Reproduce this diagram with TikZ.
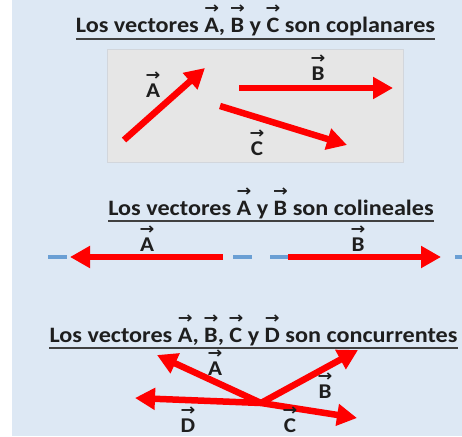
\documentclass[tikz,border=0pt]{standalone}
\usepackage{fontspec}
\usepackage{graphicx}
\setmainfont{Carlito}[FakeStretch=1.1]
\newfontfamily\arrfont{DejaVu Sans}
\usetikzlibrary{arrows.meta}

\definecolor{bgblue}{HTML}{DDE8F4}
\definecolor{panelgray}{HTML}{E6E6E6}
\definecolor{panelline}{HTML}{D2D6DC}
\definecolor{vecred}{HTML}{FF0000}
\definecolor{axisblue}{HTML}{6A9FD4}
\definecolor{inkgray}{HTML}{1E1E1E}

% letter with a small arrow set above it (optional: height of the arrow)
\newcommand\vecar[2][19pt]{\setbox0\hbox{#2}\leavevmode\rlap{\hbox to\wd0{\hss\raisebox{#1}{\scalebox{1.1}[1]{\arrfont\bfseries\fontsize{16}{16}\selectfont →}}\hss}}\box0\relax}
\newcommand\lvec[1]{\vecar[17pt]{#1}}

\tikzset{
  vec/.style={draw=vecred, line width=6.5pt, -{Triangle[length=20pt,width=21pt]}},
  title/.style={anchor=base, inner sep=0pt, text=inkgray, font=\bfseries\fontsize{22}{26}\selectfont},
  lbl/.style={anchor=base, inner sep=0pt, text=inkgray, font=\bfseries\fontsize{21}{25}\selectfont},
  uline/.style={draw=inkgray!85, line width=1.6pt},
}

\begin{document}
\begin{tikzpicture}[x=1pt, y=-1pt]
\useasboundingbox (0,0) rectangle (462,436);
\fill[white] (0,0) rectangle (462,436);
\fill[bgblue] (12,0) rectangle (462,436);

% --- coplanar vectors ---
\node[title] (t1) at (255.5,33) {Los vectores \vecar{A}, \vecar{B} y \vecar{C} son coplanares};
\draw[uline] ([yshift=-6pt]t1.base west) -- ([yshift=-6pt]t1.base east);
\draw[panelline, fill=panelgray] (107,49) rectangle (403,162);
\coordinate (a1s) at (124,140); \coordinate (a1e) at (205,68);
\coordinate (b1s) at (239,88);  \coordinate (b1e) at (393,88);
\coordinate (c1s) at (220,106); \coordinate (c1e) at (347,145);
\draw[vec] (a1s) -- (a1e);
\draw[vec] (b1s) -- (b1e);
\draw[vec] (c1s) -- (c1e);
\node[lbl] (la1) at (153,97) {\lvec{A}};
\node[lbl] (lb1) at (318,80) {\lvec{B}};
\node[lbl] (lc1) at (257,155) {\lvec{C}};

% --- collinear vectors ---
\node[title] (t2) at (271,215) {Los vectores \vecar{A} y \vecar{B} son colineales};
\draw[uline] ([yshift=-6pt]t2.base west) -- ([yshift=-6pt]t2.base east);
\coordinate (axl) at (48,257); \coordinate (axr) at (462,257);
\draw[axisblue, line width=4pt, dash pattern=on 19pt off 18pt] (axl) -- (axr);
\coordinate (a2s) at (223,257); \coordinate (a2e) at (70,257);
\coordinate (b2s) at (288,257); \coordinate (b2e) at (441,257);
\draw[vec] (a2s) -- (a2e);
\draw[vec] (b2s) -- (b2e);
\node[lbl] (la2) at (147,251) {\lvec{A}};
\node[lbl] (lb2) at (358,251) {\lvec{B}};

% --- concurrent vectors ---
\node[title] (t3) at (253.5,342) {Los vectores \vecar{A}, \vecar{B}, \vecar{C} y \vecar{D} son concurrentes};
\draw[uline] ([yshift=-6pt]t3.base west) -- ([yshift=-6pt]t3.base east);
\coordinate (o) at (261,403);
\coordinate (a3) at (157,355);
\coordinate (b3) at (358,350);
\coordinate (c3) at (357,418);
\coordinate (d3) at (135,398);
\draw[vec] (o) -- (a3);
\draw[vec] (o) -- (b3);
\draw[vec] (o) -- (c3);
\draw[vec] (o) -- (d3);
\node[lbl] (la3) at (215,375) {\lvec{A}};
\node[lbl] (lb3) at (325,398) {\lvec{B}};
\node[lbl] (lc3) at (290,432) {\lvec{C}};
\node[lbl] (ld3) at (188,432) {\lvec{D}};
\end{tikzpicture}
\end{document}
